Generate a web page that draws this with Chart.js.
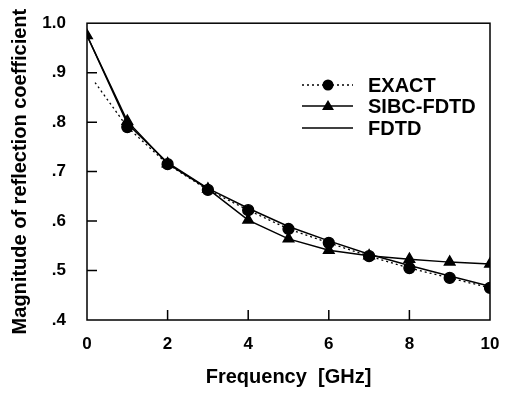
<!DOCTYPE html>
<html>
<head>
<meta charset="utf-8">
<script src="https://cdn.jsdelivr.net/npm/chart.js@4"></script>
<style>
  html, body { margin: 0; padding: 0; background: #fff; }
  #wrap { width: 507px; height: 393px; position: relative; }
</style>
</head>
<body>
<div id="wrap"><canvas id="chart"></canvas></div>
<script>
// values
const freqs = [0, 1, 2, 3, 4, 5, 6, 7, 8, 9, 10];
const exactFreqs = [0.2, 1, 2, 3, 4, 5, 6, 7, 8, 9, 10];
const exactVals = [0.88, 0.79, 0.715, 0.663, 0.622, 0.584, 0.556, 0.529, 0.505, 0.485, 0.465];
const sibcVals = [0.975, 0.802, 0.716, 0.665, 0.602, 0.564, 0.541, 0.530, 0.523, 0.517, 0.513];
const fdtdVals = [0.975, 0.797, 0.718, 0.666, 0.626, 0.589, 0.560, 0.533, 0.510, 0.489, 0.468];
const xTicks = [0, 2, 4, 6, 8, 10];
const yTicks = [0.4, 0.5, 0.6, 0.7, 0.8, 0.9, 1.0];

const FONT = "'Liberation Sans', Arial, sans-serif";

const pts = (xs, ys) => xs.map((x, i) => ({ x: x, y: ys[i] }));

// frame, inward tick marks and the in-plot legend
const decor = {
  id: 'decor',
  afterDraw(chart) {
    const { ctx, chartArea: a, scales } = chart;
    ctx.save();
    ctx.strokeStyle = '#000';
    ctx.lineWidth = 1.5;
    ctx.strokeRect(a.left, a.top, a.right - a.left, a.bottom - a.top);
    ctx.beginPath();
    yTicks.slice(1, -1).forEach(v => {
      const y = scales.y.getPixelForValue(v);
      ctx.moveTo(a.left, y); ctx.lineTo(a.left + 10, y);
    });
    xTicks.slice(1, -1).forEach(v => {
      const x = scales.x.getPixelForValue(v);
      ctx.moveTo(x, a.bottom); ctx.lineTo(x, a.bottom - 10);
    });
    ctx.stroke();

    const items = [
      { label: 'EXACT', dash: [2, 3], marker: 'circle', y: 85 },
      { label: 'SIBC-FDTD', dash: [], marker: 'triangle', y: 106 },
      { label: 'FDTD', dash: [], marker: null, y: 128 }
    ];
    items.forEach(it => {
      ctx.setLineDash(it.dash);
      ctx.lineWidth = 1.3;
      ctx.beginPath();
      ctx.moveTo(302, it.y); ctx.lineTo(353, it.y);
      ctx.stroke();
      ctx.setLineDash([]);
      ctx.fillStyle = '#000';
      if (it.marker === 'circle') {
        ctx.beginPath(); ctx.arc(328, it.y, 5.5, 0, Math.PI * 2); ctx.fill();
      } else if (it.marker === 'triangle') {
        ctx.beginPath();
        ctx.moveTo(328, it.y - 6); ctx.lineTo(334, it.y + 4); ctx.lineTo(322, it.y + 4);
        ctx.closePath(); ctx.fill();
      }
      ctx.font = 'bold 20px ' + FONT;
      ctx.textBaseline = 'middle';
      ctx.fillText(it.label, 368, it.y + 1);
    });
    ctx.restore();
  }
};

new Chart(document.getElementById('chart'), {
  type: 'scatter',
  data: {
    datasets: [
      {
        label: 'EXACT',
        data: pts(exactFreqs, exactVals),
        showLine: true,
        borderColor: '#000',
        borderWidth: 1.3,
        borderDash: [2, 3],
        pointStyle: 'circle',
        pointRadius: exactFreqs.map((x, i) => i === 0 ? 0 : 5.5),
        pointBackgroundColor: '#000',
        pointBorderColor: '#000'
      },
      {
        label: 'SIBC-FDTD',
        data: pts(freqs, sibcVals),
        showLine: true,
        borderColor: '#000',
        borderWidth: 1.5,
        pointStyle: 'triangle',
        pointRadius: 6,
        pointBackgroundColor: '#000',
        pointBorderColor: '#000'
      },
      {
        label: 'FDTD',
        data: pts(freqs, fdtdVals),
        showLine: true,
        borderColor: '#000',
        borderWidth: 1.5,
        pointRadius: 0
      }
    ]
  },
  options: {
    responsive: true,
    maintainAspectRatio: false,
    animation: false,
    layout: { padding: { top: 17, right: 17, left: 0, bottom: 0 } },
    plugins: {
      legend: { display: false },
      tooltip: { enabled: false }
    },
    scales: {
      x: {
        type: 'linear',
        min: 0, max: 10,
        afterBuildTicks: s => { s.ticks = xTicks.map(v => ({ value: v })); },
        afterFit: s => { s.height = 73; },
        grid: { display: false },
        border: { display: false },
        ticks: { color: '#000', padding: 6, font: { family: FONT, size: 17, weight: 'bold' } },
        title: { display: true, text: 'Frequency  [GHz]', color: '#000', padding: { top: 6 }, font: { family: FONT, size: 20, weight: 'bold' } }
      },
      y: {
        type: 'linear',
        min: 0.4, max: 1.0,
        afterBuildTicks: s => { s.ticks = yTicks.map(v => ({ value: v })); },
        afterFit: s => { s.width = 87; },
        grid: { display: false },
        border: { display: false },
        ticks: {
          color: '#000', padding: 13, font: { family: FONT, size: 17, weight: 'bold' },
          callback: v => v >= 0.999 ? '1.0' : '.' + Math.round(v * 10)
        },
        title: { display: true, text: 'Magnitude of reflection coefficient', color: '#000', padding: { top: 8, bottom: 4 }, font: { family: FONT, size: 20, weight: 'bold' } }
      }
    }
  },
  plugins: [decor]
});
</script>
</body>
</html>
